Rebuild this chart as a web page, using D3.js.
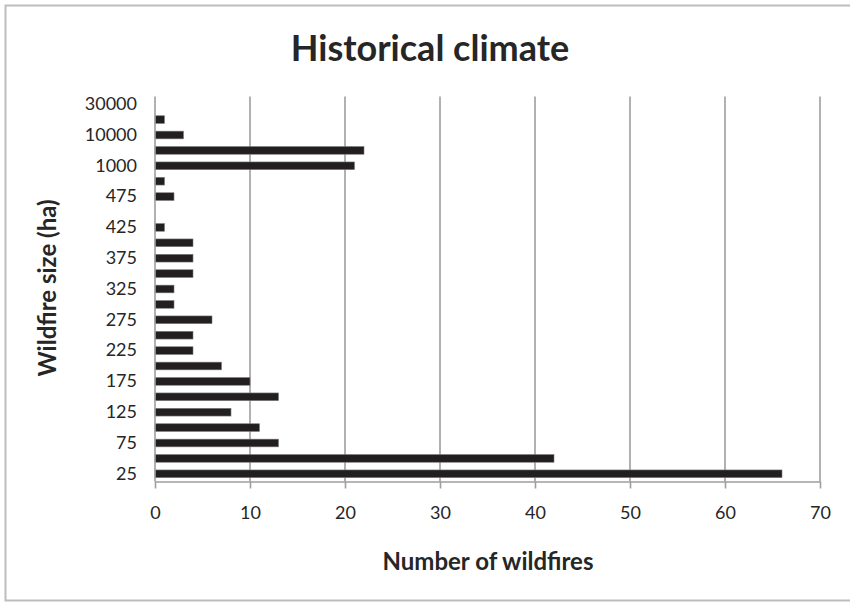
<!DOCTYPE html>
<head>
  <meta charset="utf-8">
  <script src="https://d3js.org/d3.v7.min.js"></script>
  <style>
    body { margin:0; background:#fff; }
    text { font-family: Lato, "Open Sans", sans-serif; fill:#262626; }
    .grid line { stroke:#9e9e9e; stroke-width:1.6px; }
    .axis path, .axis line { stroke:#9e9e9e; stroke-width:1.6px; fill:none; }
    .axis text { font-size:18px; fill:#262626; font-family: Lato, sans-serif; }
  </style>
</head>
<body>
  <svg id="chart" width="850" height="603"></svg>
  <script>
  // fire size classes (ha), bottom to top
  var sizes = ["25","50","75","100","125","150","175","200","225","250","275","300",
               "325","350","375","400","425","450","475","500","1000","5000","10000","20000","30000"];
  var counts = [66,42,13,11,8,13,10,7,4,4,6,2,2,4,4,4,1,0,2,1,21,22,3,1,0];
  var xTicks = [0,10,20,30,40,50,60,70];

  var svg = d3.select("#chart");

  // outer frame
  svg.append("rect")
    .attr("x", 5.5).attr("y", 5.5)
    .attr("width", 850).attr("height", 595)
    .attr("fill", "none").attr("stroke", "#bdbdbd").attr("stroke-width", 2);

  var plotLeft = 155, plotRight = 820, plotTop = 96.5, plotBottom = 481.5;

  var x = d3.scaleLinear().domain([0, 70]).range([plotLeft, plotRight]);
  var y = d3.scaleBand().domain(sizes).range([plotBottom, plotTop]).paddingInner(0.5).paddingOuter(0.25);

  // vertical gridlines
  svg.append("g").attr("class", "grid")
    .selectAll("line").data(xTicks.slice(1)).enter().append("line")
    .attr("x1", d => x(d)).attr("x2", d => x(d))
    .attr("y1", plotTop).attr("y2", plotBottom);

  // bars
  svg.append("g").selectAll("rect").data(counts).enter().append("rect")
    .attr("x", x(0))
    .attr("y", (d, i) => y(sizes[i]))
    .attr("width", d => x(d) - x(0))
    .attr("height", y.bandwidth())
    .attr("fill", "#231f20")
    .attr("stroke", "#7a7a7a").attr("stroke-width", 0.6);

  // x axis
  svg.append("g").attr("class", "axis")
    .attr("transform", "translate(0," + plotBottom + ")")
    .call(d3.axisBottom(x).tickValues(xTicks).tickSize(7).tickPadding(18).tickSizeOuter(0));

  // y axis, only every other label shown
  var yAxis = svg.append("g").attr("class", "axis")
    .attr("transform", "translate(" + plotLeft + ",0)")
    .call(d3.axisLeft(y).tickSize(0).tickPadding(18)
      .tickFormat((d, i) => i % 2 === 0 ? d : ""));
  yAxis.select(".domain").attr("d", "M0," + plotTop + "V" + plotBottom);

  svg.append("text")
    .attr("x", 430).attr("y", 61)
    .attr("text-anchor", "middle")
    .style("font-size", "36px").style("font-weight", "bold")
    .text("Historical climate");

  svg.append("text")
    .attr("x", 488).attr("y", 570)
    .attr("text-anchor", "middle")
    .style("font-size", "24px").style("font-weight", "bold")
    .text("Number of wildfires");

  svg.append("text")
    .attr("transform", "translate(56,288) rotate(-90)")
    .attr("text-anchor", "middle")
    .style("font-size", "24px").style("font-weight", "bold")
    .text("Wildfire size (ha)");
  </script>
</body>
